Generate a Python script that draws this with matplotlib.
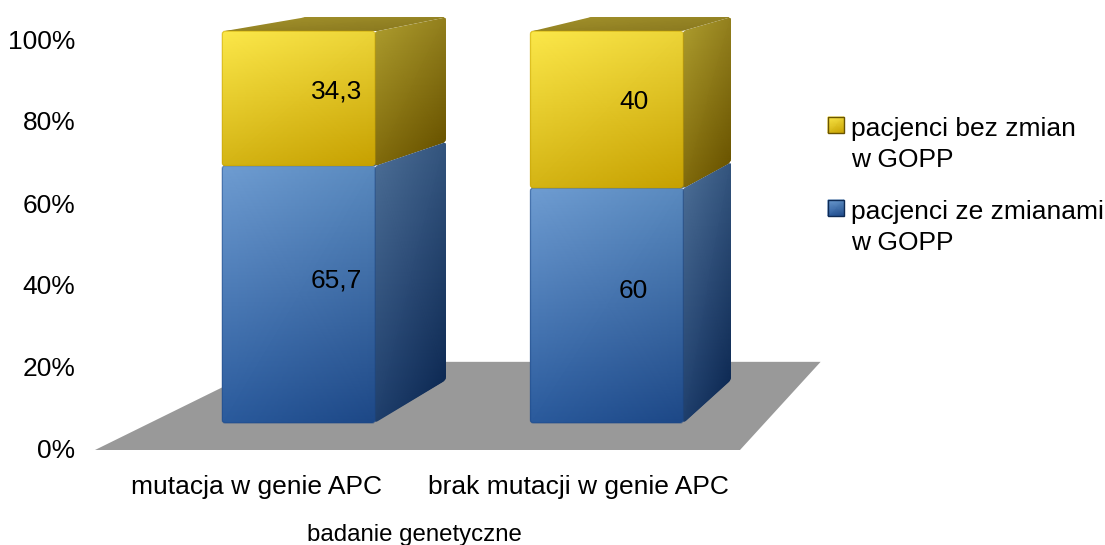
import matplotlib
matplotlib.use("Agg")
import numpy as np
import matplotlib.pyplot as plt
from matplotlib.patches import PathPatch, Polygon
from matplotlib.path import Path
from matplotlib.transforms import ScaledTranslation

plt.rcParams["font.family"] = ["Liberation Sans", "DejaVu Sans"]

categories = ["mutacja w genie APC", "brak mutacji w genie APC"]
with_changes = [65.7, 60]
without_changes = [34.3, 40]
series_labels = ["pacjenci ze zmianami\nw GOPP", "pacjenci bez zmian\nw GOPP"]
percent_ticks = [0, 20, 40, 60, 80, 100]

W, H = 1105, 545
# perspective of the 3D box, in data units of the main axes
VANISH = (3.33, 148.3)
FLOOR_DEPTH = 0.145
BAR_DEPTH = (0.0444, 0.115)
BAR_WIDTH = 0.496
BAR_SHIFT = -0.017
PX_X, PX_Y = 322.5, 4.1

BLUE = {
    "front": ("#6f9dd2", "#5a8abf", "#2a5a9c", "#1c4786"),
    "side": ("#4a6c94", "#34557e", "#1f3f6c", "#0e2a54"),
    "top": ("#4a6c94", "#4a6c94", "#3c5c86", "#3c5c86"),
}
YELLOW = {
    "front": ("#fce84a", "#ecd438", "#d4b414", "#c6a000"),
    "side": ("#ab9a2c", "#93801e", "#806a0c", "#6a5400"),
    "top": ("#9f8e2a", "#958424", "#958424", "#8b7a20"),
}


def project(x, y, d):
    return x + d * (VANISH[0] - x), y + d * (VANISH[1] - y)


def rounded(points, r=3.0):
    # polygon path with small rounded corners, radius given in pixels
    pts = np.array(points, float)
    n = len(pts)
    scale = np.array([PX_X, PX_Y])
    verts, codes = [], []
    for i in range(n):
        p, a, b = pts[i], pts[i - 1], pts[(i + 1) % n]
        to_a = (a - p) * scale
        to_b = (b - p) * scale
        p1 = p + to_a / np.hypot(*to_a) * r / scale
        p2 = p + to_b / np.hypot(*to_b) * r / scale
        verts.append(p1)
        codes.append(Path.MOVETO if i == 0 else Path.LINETO)
        verts += [p, p2]
        codes += [Path.CURVE3, Path.CURVE3]
    verts.append(verts[0])
    codes.append(Path.CLOSEPOLY)
    return Path(verts, codes)


def shaded_face(ax, corners, colors, zorder, edge_alpha):
    # corners: top-left, top-right, bottom-left, bottom-right
    tl, tr, bl, br = corners
    X = np.array([[tl[0], tr[0]], [bl[0], br[0]]])
    Y = np.array([[tl[1], tr[1]], [bl[1], br[1]]])
    C = np.array([matplotlib.colors.to_rgb(c) for c in colors]).reshape(2, 2, 3)
    mesh = ax.pcolormesh(X, Y, C, shading="gouraud", zorder=zorder)
    outline = PathPatch(rounded([tl, tr, br, bl]), fill=False, lw=1.0,
                        ec=colors[3], alpha=edge_alpha, zorder=zorder + 0.1, clip_on=False)
    ax.add_patch(outline)
    mesh.set_clip_path(outline)
    mesh.set_clip_box(None)


def draw_segment(ax, x0, x1, v0, v1, palette, zorder):
    d0, d1 = BAR_DEPTH
    shaded_face(ax, [project(x1, v1, d0), project(x1, v1, d1),
                     project(x1, v0, d0), project(x1, v0, d1)],
                palette["side"], zorder, 0.0)
    shaded_face(ax, [project(x0, v1, d1), project(x1, v1, d1),
                     project(x0, v1, d0), project(x1, v1, d0)],
                palette["top"], zorder, 0.0)
    shaded_face(ax, [project(x0, v1, d0), project(x1, v1, d0),
                     project(x0, v0, d0), project(x1, v0, d0)],
                palette["front"], zorder + 1, 0.45)


fig = plt.figure(figsize=(W / 100, H / 100), dpi=100)
ax = fig.add_axes([95 / W, 1 - 450 / H, 645 / W, 410 / H])

xpos = np.arange(len(categories))

floor = [project(-0.5, 0, 0), project(1.5, 0, 0),
         project(1.482, 0, FLOOR_DEPTH), project(-0.5, 0, FLOOR_DEPTH)]
ax.add_patch(Polygon(floor, closed=True, fc="#999999", ec="none", zorder=1, clip_on=False))

mid_depth = sum(BAR_DEPTH) / 2
label_drop = ScaledTranslation(0, -2.5 / 100, fig.dpi_scale_trans)
for x, low, high in zip(xpos, with_changes, without_changes):
    x0 = x + BAR_SHIFT - BAR_WIDTH / 2
    x1 = x + BAR_SHIFT + BAR_WIDTH / 2
    draw_segment(ax, x0, x1, 0, low, BLUE, 2)
    draw_segment(ax, x0, x1, low, low + high, YELLOW, 4)
    # value labels sit in the middle of each box
    for base, val in ((0, low), (low, high)):
        px, py = project(x + BAR_SHIFT, base + val / 2, mid_depth)
        ax.text(px, py, f"{val:g}".replace(".", ","), ha="center", va="center",
                fontsize=19, color="black", zorder=8, clip_on=False,
                transform=ax.transData + label_drop)

ax.set_xlim(-0.5, 1.5)
ax.set_ylim(0, 100)
ax.set_xticks(xpos)
ax.set_xticklabels(categories, fontsize=19)
ax.set_yticks(percent_ticks)
ax.set_yticklabels([f"{p}%" for p in percent_ticks], fontsize=19)
ax.tick_params(axis="x", length=0, pad=18)
ax.tick_params(axis="y", length=0, pad=14)
nudge_up = ScaledTranslation(0, 1 / 100, fig.dpi_scale_trans)
for lab in ax.get_yticklabels():
    lab.set_transform(lab.get_transform() + nudge_up)
ax.set_xlabel("badanie genetyczne", fontsize=17.3, labelpad=18, x=0.4953)
for s in ax.spines.values():
    s.set_visible(False)
ax.patch.set_alpha(0)

# legend drawn in pixel coordinates so the swatches can carry the same shading
lax = fig.add_axes([0, 0, 1, 1], zorder=5)
lax.set_xlim(0, W)
lax.set_ylim(H, 0)
lax.axis("off")
legend_rows = [(117, YELLOW, series_labels[1]), (200, BLUE, series_labels[0])]
for top, palette, label in legend_rows:
    X = np.array([[828, 844], [828, 844]])
    Y = np.array([[top, top], [top + 16, top + 16]])
    C = np.array([matplotlib.colors.to_rgb(c) for c in palette["front"]]).reshape(2, 2, 3)
    lax.pcolormesh(X, Y, C, shading="gouraud", zorder=2)
    lax.add_patch(Polygon([(828, top), (844, top), (844, top + 16), (828, top + 16)],
                          fill=False, ec=palette["side"][3], lw=1, zorder=3))
    lax.text(851, top, label, fontsize=19, va="top", ha="left", linespacing=1.36)
lax.set_xlim(0, W)
lax.set_ylim(H, 0)

fig.savefig("out.png", dpi=100)
